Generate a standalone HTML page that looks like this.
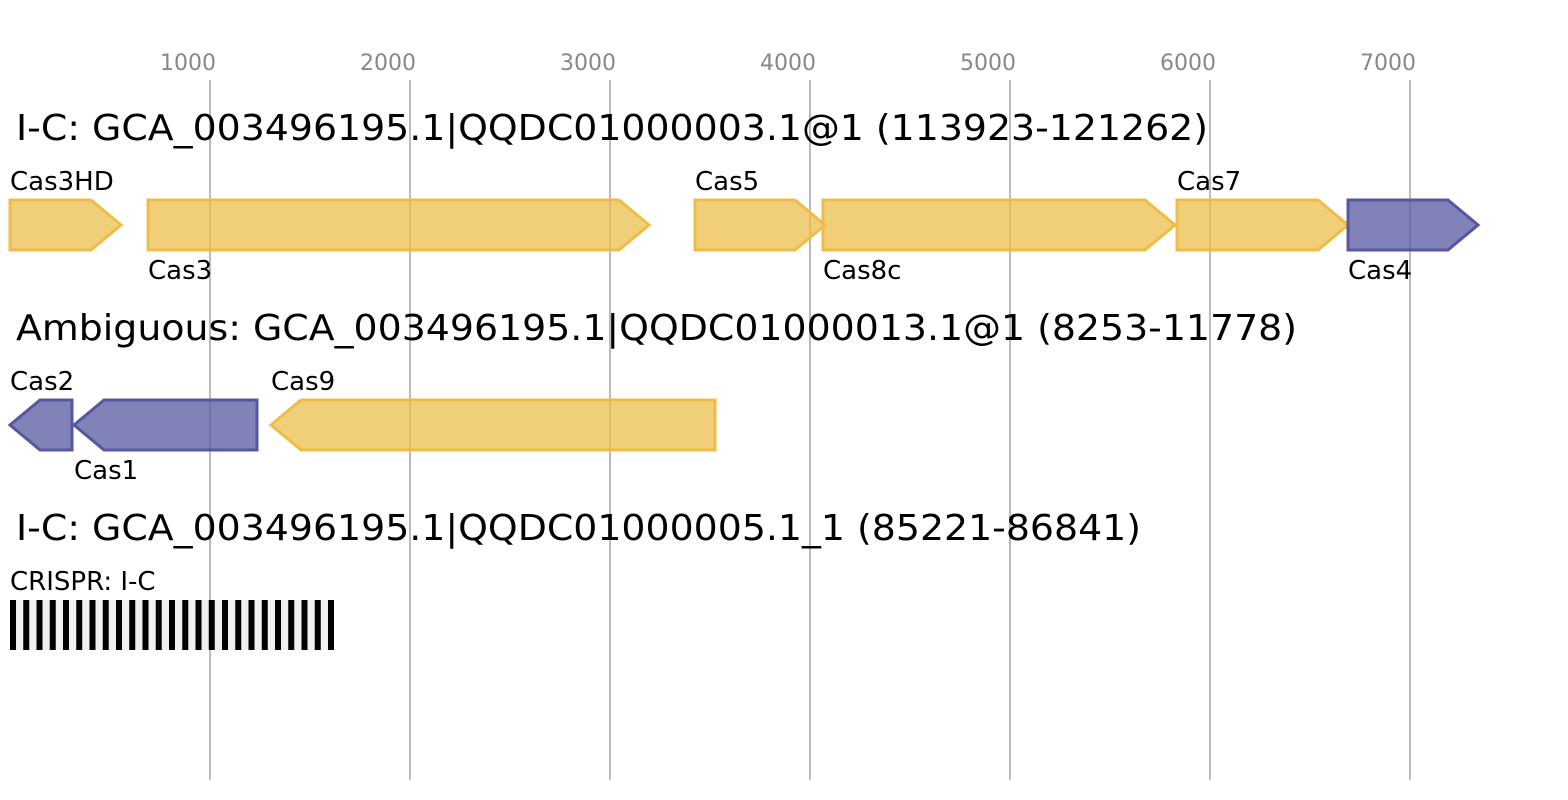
<!DOCTYPE html>
<html><head><meta charset="utf-8"><style>
html,body{margin:0;padding:0;background:#fff;}
svg{display:block;font-family:"DejaVu Sans","Liberation Sans",sans-serif;}
</style></head><body>
<svg width="1568" height="800" viewBox="0 0 1568 800" xmlns="http://www.w3.org/2000/svg">
<g stroke="#bbbbbb" stroke-width="2">
<line x1="210" y1="80" x2="210" y2="780"/><line x1="410" y1="80" x2="410" y2="780"/>
<line x1="610" y1="80" x2="610" y2="780"/><line x1="810" y1="80" x2="810" y2="780"/>
<line x1="1010" y1="80" x2="1010" y2="780"/><line x1="1210" y1="80" x2="1210" y2="780"/>
<line x1="1410" y1="80" x2="1410" y2="780"/>
</g>
<g fill="#888" font-size="22" text-anchor="middle">
<text x="188" y="70">1000</text><text x="388" y="70">2000</text><text x="588" y="70">3000</text>
<text x="788" y="70">4000</text><text x="988" y="70">5000</text><text x="1188" y="70">6000</text>
<text x="1388" y="70">7000</text>
</g>
<g fill="#000" font-size="36">
<text x="16" y="140" textLength="1192" lengthAdjust="spacingAndGlyphs">I-C: GCA_003496195.1|QQDC01000003.1@1 (113923-121262)</text>
<text x="16" y="340" textLength="1281" lengthAdjust="spacingAndGlyphs">Ambiguous: GCA_003496195.1|QQDC01000013.1@1 (8253-11778)</text>
<text x="16" y="540" textLength="1125" lengthAdjust="spacingAndGlyphs">I-C: GCA_003496195.1|QQDC01000005.1_1 (85221-86841)</text>
</g>
<g stroke-width="3" stroke-linejoin="miter">
<g fill="rgba(236,190,75,0.75)" stroke="#eebc48">
<polygon points="10,200 91,200 121,225 91,250 10,250"/>
<polygon points="148,200 619,200 649,225 619,250 148,250"/>
<polygon points="695,200 795,200 825,225 795,250 695,250"/>
<polygon points="823,200 1145,200 1175,225 1145,250 823,250"/>
<polygon points="1177,200 1318,200 1348,225 1318,250 1177,250"/>
<polygon points="715,400 301,400 271,425 301,450 715,450"/>
</g>
<g fill="rgba(85,88,160,0.75)" stroke="#5558a0">
<polygon points="1348,200 1448,200 1478,225 1448,250 1348,250"/>
<polygon points="72,400 40,400 10,425 40,450 72,450"/>
<polygon points="257,400 104,400 74,425 104,450 257,450"/>
</g>
</g>
<g fill="#000" font-size="26">
<text x="10" y="190">Cas3HD</text>
<text x="148" y="279">Cas3</text>
<text x="695" y="190">Cas5</text>
<text x="823" y="279">Cas8c</text>
<text x="1177" y="190">Cas7</text>
<text x="1348" y="279">Cas4</text>
<text x="10" y="390">Cas2</text>
<text x="74" y="479">Cas1</text>
<text x="271" y="390">Cas9</text>
<text x="10" y="590">CRISPR: I-C</text>
</g>
<rect x="10" y="600" width="324" height="50" fill="#f0f0f0"/>
<g fill="#000">
<rect x="10" y="600" width="6" height="50"/><rect x="23.25" y="600" width="6" height="50"/>
<rect x="36.5" y="600" width="6" height="50"/><rect x="49.75" y="600" width="6" height="50"/>
<rect x="63" y="600" width="6" height="50"/><rect x="76.25" y="600" width="6" height="50"/>
<rect x="89.5" y="600" width="6" height="50"/><rect x="102.75" y="600" width="6" height="50"/>
<rect x="116" y="600" width="6" height="50"/><rect x="129.25" y="600" width="6" height="50"/>
<rect x="142.5" y="600" width="6" height="50"/><rect x="155.75" y="600" width="6" height="50"/>
<rect x="169" y="600" width="6" height="50"/><rect x="182.25" y="600" width="6" height="50"/>
<rect x="195.5" y="600" width="6" height="50"/><rect x="208.75" y="600" width="6" height="50"/>
<rect x="222" y="600" width="6" height="50"/><rect x="235.25" y="600" width="6" height="50"/>
<rect x="248.5" y="600" width="6" height="50"/><rect x="261.75" y="600" width="6" height="50"/>
<rect x="275" y="600" width="6" height="50"/><rect x="288.25" y="600" width="6" height="50"/>
<rect x="301.5" y="600" width="6" height="50"/><rect x="314.75" y="600" width="6" height="50"/>
<rect x="328" y="600" width="6" height="50"/>
</g>
</svg>
</body></html>
